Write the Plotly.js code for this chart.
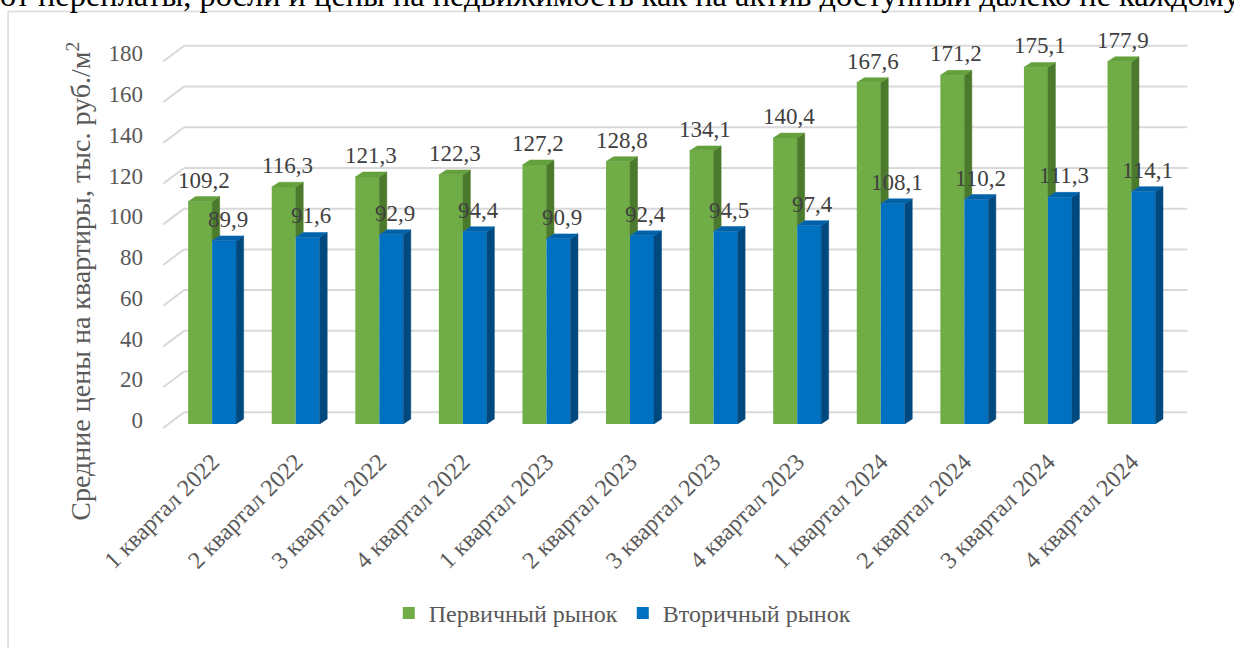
<!DOCTYPE html>
<html>
<head>
<meta charset="utf-8">
<script src="https://cdn.plot.ly/plotly-3.0.1.min.js"></script>
<style>
  html, body { margin: 0; padding: 0; background: #ffffff; overflow: hidden; }
  #chart { width: 1234px; height: 648px; }
</style>
</head>
<body>
<div id="chart"></div>
<script>
// ---- data ----
const categories = ['1 квартал 2022', '2 квартал 2022', '3 квартал 2022', '4 квартал 2022',
                    '1 квартал 2023', '2 квартал 2023', '3 квартал 2023', '4 квартал 2023',
                    '1 квартал 2024', '2 квартал 2024', '3 квартал 2024', '4 квартал 2024'];
const primaryMarket = [109.2, 116.3, 121.3, 122.3, 127.2, 128.8, 134.1, 140.4, 167.6, 171.2, 175.1, 177.9];
const secondaryMarket = [89.9, 91.6, 92.9, 94.4, 90.9, 92.4, 94.5, 97.4, 108.1, 110.2, 111.3, 114.1];
const yTickValues = [0, 20, 40, 60, 80, 100, 120, 140, 160, 180];
const seriesNames = ['Первичный рынок', 'Вторичный рынок'];
const yTitle = 'Средние цены на квартиры, тыс. руб./м<sup>2</sup>';
const topText = 'от переплаты, росли и цены на недвижимость как на актив доступный далеко не каждому.';

// ---- geometry / style ----
const W_PX = 1234, H_PX = 648;
const xRange = [-0.6, 11.7];
const yRange = [-3, 190];
const pxPerX = 83.55, pxPerY = 2.074;
const L = 212 + xRange[0] * pxPerX;            // left edge of plot area
const W = (xRange[1] - xRange[0]) * pxPerX;    // plot width
const B = 431 - yRange[0] * pxPerY;            // bottom edge of plot area (px)
const H = (yRange[1] - yRange[0]) * pxPerY;    // plot height
const T = B - H;
const px2x = p => (p - L) / W;
const px2y = p => (B - p) / H;

const barW = 0.287;                 // width of one bar in x units
const dX = 7.5 / pxPerX;            // 3D depth (x)
const dY = 5 / pxPerY;              // 3D depth (y)
const wallDX = 0.25, wallFront = -2, wallBack = 5.7;

const greenFront = '#70AD47', greenTop = '#64a03c', greenSide = '#4b7a2c';
const blueFront = '#0070C0', blueTop = '#0063aa', blueSide = '#00497f';
const serif = 'Liberation Serif, Times New Roman, serif';
const idx = categories.map((c, i) => i);

// ---- traces ----
const traces = [
  { type: 'bar', name: seriesNames[0], x: idx, y: primaryMarket,
    marker: { color: greenFront, line: { width: 0 } },
    customdata: categories, hovertemplate: '%{customdata}<br>%{y}<extra>' + seriesNames[0] + '</extra>' },
  { type: 'bar', name: seriesNames[1], x: idx, y: secondaryMarket,
    marker: { color: blueFront, line: { width: 0 } },
    customdata: categories, hovertemplate: '%{customdata}<br>%{y}<extra>' + seriesNames[1] + '</extra>' }
];

function faceTrace(color, polys) {
  const xs = [], ys = [];
  polys.forEach(p => { p.forEach(pt => { xs.push(pt[0]); ys.push(pt[1]); }); xs.push(p[0][0]); ys.push(p[0][1]); xs.push(null); ys.push(null); });
  return { type: 'scatter', mode: 'lines', x: xs, y: ys, fill: 'toself', fillcolor: color,
           line: { color: color, width: 0.5 }, hoverinfo: 'skip', showlegend: false };
}
// green side face (visible part above the blue bar)
traces.push(faceTrace(greenSide, idx.map(i => [[i, primaryMarket[i]], [i + dX, primaryMarket[i] + dY], [i + dX, secondaryMarket[i] + dY], [i, secondaryMarket[i]]])));
// green top face
traces.push(faceTrace(greenTop, idx.map(i => [[i - barW, primaryMarket[i]], [i, primaryMarket[i]], [i + dX, primaryMarket[i] + dY], [i - barW + dX, primaryMarket[i] + dY]])));
// blue side face
traces.push(faceTrace(blueSide, idx.map(i => [[i + barW, 0], [i + barW, secondaryMarket[i]], [i + barW + dX, secondaryMarket[i] + dY], [i + barW + dX, dY]])));
// blue top face
traces.push(faceTrace(blueTop, idx.map(i => [[i, secondaryMarket[i]], [i + barW, secondaryMarket[i]], [i + barW + dX, secondaryMarket[i] + dY], [i + dX, secondaryMarket[i] + dY]])));

// ---- gridlines (3D wall) ----
const shapes = [];
yTickValues.forEach(v => {
  shapes.push({ type: 'line', xref: 'x', yref: 'y', layer: 'below',
    x0: xRange[0] + 0.014, y0: v + wallFront, x1: xRange[0] + 0.014 + wallDX, y1: v + wallBack,
    line: { color: '#d9d9d9', width: 2 } });
  shapes.push({ type: 'line', xref: 'x', yref: 'y', layer: 'below',
    x0: xRange[0] + 0.014 + wallDX, y0: v + wallBack, x1: 11.67, y1: v + wallBack,
    line: { color: '#d9d9d9', width: 2 } });
});
// outer frame
shapes.push({ type: 'rect', xref: 'paper', yref: 'paper', layer: 'below',
  x0: px2x(8), x1: px2x(1250), y0: px2y(11), y1: px2y(670),
  line: { color: '#d9d9d9', width: 1.5 }, fillcolor: 'rgba(0,0,0,0)' });

// ---- annotations ----
const annotations = [];
idx.forEach(i => {
  annotations.push({ xref: 'x', yref: 'y', x: i - barW / 2 + dX / 2, y: primaryMarket[i] + dY,
    text: primaryMarket[i].toFixed(1).replace('.', ','), showarrow: false, yanchor: 'bottom', yshift: 2,
    font: { family: serif, size: 23, color: '#404040' } });
  annotations.push({ xref: 'x', yref: 'y', x: i + barW / 2 + dX / 2, y: secondaryMarket[i] + dY,
    text: secondaryMarket[i].toFixed(1).replace('.', ','), showarrow: false, yanchor: 'bottom', yshift: 2,
    font: { family: serif, size: 23, color: '#404040' } });
});
annotations.push({ xref: 'paper', yref: 'paper', x: px2x(79), y: px2y(286), text: yTitle, textangle: -90,
  showarrow: false, xanchor: 'center', yanchor: 'middle', font: { family: serif, size: 28, color: '#595959' } });
annotations.push({ xref: 'paper', yref: 'paper', x: px2x(-2), y: px2y(-6), text: topText,
  showarrow: false, xanchor: 'left', yanchor: 'middle', font: { family: serif, size: 32.4, color: '#000000' } });

const layout = {
  width: W_PX, height: H_PX,
  margin: { l: L, r: W_PX - L - W, t: T, b: H_PX - B, pad: 0 },
  paper_bgcolor: '#ffffff', plot_bgcolor: 'rgba(0,0,0,0)',
  barmode: 'group', bargap: 1 - 2 * barW, bargroupgap: 0,
  showlegend: true,
  legend: { orientation: 'h', x: px2x(622), xanchor: 'center', y: px2y(624), yanchor: 'middle',
            font: { family: serif, size: 24, color: '#595959' }, traceorder: 'normal' },
  xaxis: { range: xRange, tickmode: 'array', tickvals: idx, ticktext: categories, tickangle: -45,
           showgrid: false, zeroline: false, showline: false, ticks: '', ticklabelstandoff: 12,
           tickfont: { family: serif, size: 24, color: '#595959' }, fixedrange: true },
  yaxis: { range: yRange, tickmode: 'array', tickvals: yTickValues, showgrid: false, zeroline: false,
           showline: false, ticks: '', ticklabelstandoff: 18, ticklabelshift: -4,
           tickfont: { family: serif, size: 23, color: '#595959' }, fixedrange: true },
  shapes: shapes,
  annotations: annotations,
  font: { family: serif }
};

Plotly.newPlot('chart', traces, layout, { displayModeBar: false, responsive: false });
</script>
</body>
</html>
